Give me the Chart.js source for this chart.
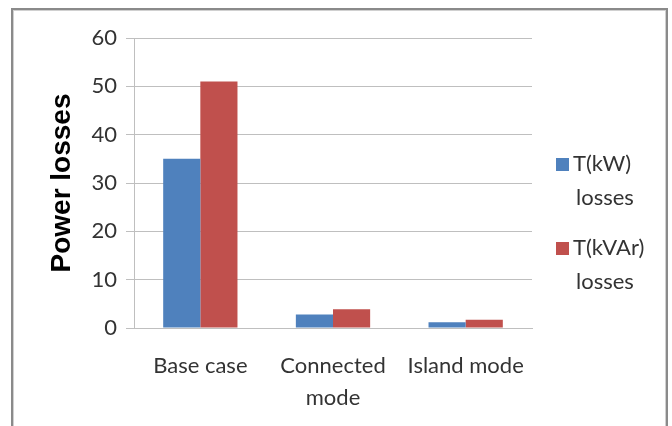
<!DOCTYPE html>
<html>
<head>
<meta charset="utf-8">
<script src="https://cdn.jsdelivr.net/npm/chart.js@4/dist/chart.umd.min.js"></script>
<style>
  html, body { margin: 0; padding: 0; background: #ffffff; }
  #wrap { width: 672px; height: 426px; position: relative; }
</style>
</head>
<body>
<div id="wrap"><canvas id="chart" width="672" height="426"></canvas></div>
<script>
// Categories and series
const categories = ["Base case", ["Connected", "mode"], "Island mode"];
const kwLosses = [35, 2.8, 1.2];
const kvarLosses = [51, 3.9, 1.7];
const seriesNames = [["T(kW)", "losses"], ["T(kVAr)", "losses"]];
const yTicks = [0, 10, 20, 30, 40, 50, 60];

const FONT = "Lato, 'Liberation Sans', sans-serif";
const TEXT = "#333333";
const GRID = "#bfbfbf";

// Outer frame around the chart
const framePlugin = {
  id: "frame",
  beforeDraw(chart) {
    const c = chart.ctx;
    c.save();
    c.fillStyle = "#ffffff";
    c.fillRect(0, 0, chart.width, chart.height);
    c.strokeStyle = "#8a8a8a";
    c.lineWidth = 2;
    c.strokeRect(12, 9, 655, 440);
    c.strokeStyle = "#d0d0d0";
    c.lineWidth = 1;
    c.strokeRect(13.5, 10.5, 652, 440);
    c.restore();
  }
};

// Legend on the right with two-line labels
const sideLegend = {
  id: "sideLegend",
  afterDraw(chart) {
    const c = chart.ctx;
    c.save();
    c.font = "22px " + FONT;
    c.textBaseline = "middle";
    c.textAlign = "left";
    const startY = 164, entryGap = 84, lineGap = 34;
    chart.data.datasets.forEach((ds, i) => {
      const y = startY + i * entryGap;
      c.fillStyle = ds.backgroundColor;
      c.fillRect(556, y - 6, 13, 13);
      c.fillStyle = TEXT;
      const lines = seriesNames[i];
      c.fillText(lines[0], 573, y);
      c.fillText(lines[1], 576, y + lineGap);
    });
    c.restore();
  }
};

new Chart(document.getElementById("chart"), {
  type: "bar",
  data: {
    labels: categories,
    datasets: [
      { label: seriesNames[0].join(" "), data: kwLosses, backgroundColor: "#4f81bd",
        categoryPercentage: 0.56, barPercentage: 1.0, borderWidth: 0 },
      { label: seriesNames[1].join(" "), data: kvarLosses, backgroundColor: "#c0504d",
        categoryPercentage: 0.56, barPercentage: 1.0, borderWidth: 0 }
    ]
  },
  options: {
    responsive: false,
    animation: false,
    layout: { padding: { left: 0, right: 140, top: 38, bottom: 0 } },
    plugins: { legend: { display: false }, tooltip: { enabled: false } },
    scales: {
      x: {
        grid: { display: false, drawTicks: false },
        border: { display: true, color: GRID, width: 1 },
        ticks: {
          color: TEXT, padding: 22, maxRotation: 0, autoSkip: false,
          font: { family: FONT, size: 22, lineHeight: 1.45 }
        },
        afterFit(scale) { scale.height = 98; }
      },
      y: {
        min: 0, max: 60,
        afterBuildTicks(scale) { scale.ticks = yTicks.map(v => ({ value: v })); },
        grid: { color: GRID, lineWidth: 1, drawTicks: true, tickLength: 8 },
        border: { display: true, color: GRID, width: 1 },
        ticks: {
          color: TEXT, padding: 9,
          font: { family: FONT, size: 22 }
        },
        title: {
          display: true, text: "Power losses", color: "#000000",
          font: { family: "'Liberation Sans', Arial, sans-serif", size: 28, weight: "bold" },
          padding: { top: 45, bottom: 0 }
        },
        afterFit(scale) { scale.width = 134; }
      }
    }
  },
  plugins: [framePlugin, sideLegend]
});
</script>
</body>
</html>
